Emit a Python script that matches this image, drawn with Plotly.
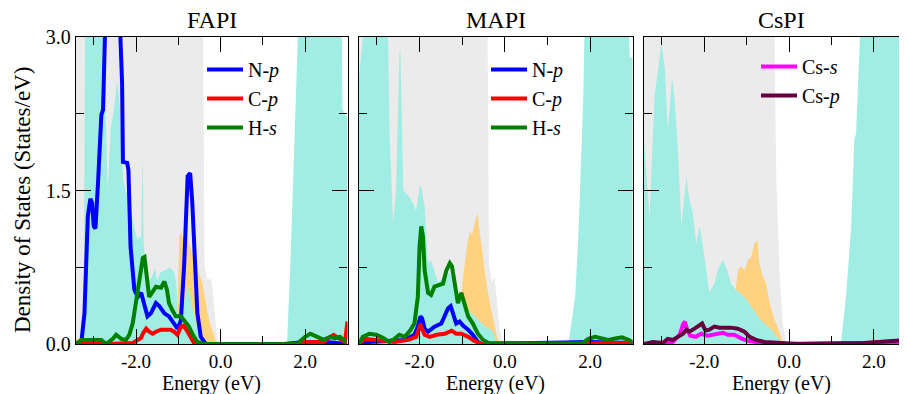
import plotly.graph_objects as go

# ---------------- data (energy in eV, DOS in states/eV) ----------------
# FAPI
FAPI_TOT_E = [-3.42, -0.42, -0.38, -0.3, -0.25, -0.2, -0.15, -0.08, 0.0, 3.0]
FAPI_TOT = [3.5, 3.5, 0.75, 0.62, 0.65, 0.58, 0.35, 0.05, 0.0, 0.0]
FAPI_PBS_E = [-3.42, -1.06, -1.02, -0.98, -0.94, -0.86, -0.78, -0.72, -0.64, -0.58, -0.5, -0.43,
              -0.35, -0.27, -0.2, -0.12, -0.04, 3.0]
FAPI_PBS = [0.05, 0.1, 0.3, 1.05, 1.1, 0.98, 1.02, 0.96, 0.85, 0.78, 0.69, 0.59,
            0.4, 0.23, 0.14, 0.04, 0.0, 0.0]
FAPI_IP_E = [-3.42, -3.24, -3.2, -2.78, -2.74, -2.67, -2.6, -2.52, -2.45, -2.38, -2.3, -2.22,
             -2.12, -2.02, -1.96, -1.88, -1.845, -1.84, -1.82, -1.78, -1.70, -1.62, -1.55, -1.5,
             -1.42, -1.3, -1.2, -1.1, -1.05, -1.0, -0.92, -0.84, -0.78, -0.72, -0.64, -0.55,
             -0.45, -0.3, 1.57, 1.65, 1.73, 1.81, 1.85, 2.86, 2.88, 3.0]
FAPI_IP = [0.0, 0.0, 3.4, 3.4, 2.6, 1.5, 2.1, 2.3, 2.57, 2.3, 1.6, 1.45,
           1.3, 1.1, 1.02, 1.05, 1.8, 1.8, 1.0, 0.8, 0.62, 0.66, 0.74, 0.62,
           0.7, 0.72, 0.75, 0.7, 0.6, 0.27, 0.35, 0.45, 0.58, 0.45, 0.3, 0.15,
           0.07, 0.0, 0.0, 0.79, 1.77, 2.75, 3.3, 3.3, 2.3, 2.2]
FAPI_NP_E = [-3.42, -3.29, -3.22, -3.18, -3.14, -3.08, -3.04, -3.0, -2.96, -2.9, -2.86, -2.82,
             -2.78, -2.76, -2.73, -2.6, -2.45, -2.37, -2.33, -2.31, -2.21, -2.18, -2.13, -2.04,
             -1.96, -1.88, -1.80, -1.73, -1.65, -1.53, -1.45, -1.33, -1.22, -1.1, -1.02, -0.94,
             -0.86, -0.78, -0.72, -0.67, -0.61, -0.55, -0.47, -0.35, 1.5, 2.0, 2.5, 2.98]
FAPI_NP = [0.0, 0.03, 0.3, 0.79, 1.25, 1.42, 1.38, 1.15, 1.13, 1.57, 2.0, 2.24,
           2.29, 2.75, 3.1, 3.6, 3.4, 3.0, 2.55, 1.78, 1.77, 1.7, 0.95, 0.53,
           0.46, 0.5, 0.37, 0.27, 0.3, 0.4, 0.37, 0.3, 0.27, 0.19, 0.15, 0.23,
           0.79, 1.64, 1.67, 1.38, 0.79, 0.3, 0.07, 0.0, 0.0, 0.02, 0.02, 0.0]
FAPI_CP_E = [-3.42, -3.0, -2.9, -2.67, -2.08, -1.88, -1.84, -1.76, -1.69, -1.61, -1.53, -1.41,
             -1.29, -1.18, -1.10, -1.02, -0.94, -0.88, -0.78, -0.71, -0.63, -0.47, 1.8, 2.0,
             2.43, 2.67, 2.82, 2.94, 3.0]
FAPI_CP = [0.0, 0.0, 0.02, 0.0, 0.01, 0.06, 0.1, 0.15, 0.12, 0.1, 0.12, 0.14,
           0.14, 0.14, 0.12, 0.09, 0.17, 0.18, 0.12, 0.06, 0.01, 0.0, 0.0, 0.02,
           0.02, 0.09, 0.05, 0.02, 0.22]
FAPI_HS_E = [-3.42, -3.29, -3.06, -2.82, -2.71, -2.55, -2.47, -2.35, -2.24, -2.16, -2.08, -2.0,
             -1.92, -1.84, -1.80, -1.74, -1.69, -1.61, -1.53, -1.41, -1.33, -1.27, -1.22, -1.14,
             -1.06, -0.94, -0.86, -0.75, -0.67, -0.55, -0.4, 1.8, 2.0, 2.12, 2.31, 2.43,
             2.59, 2.71, 2.82, 2.96]
FAPI_HS = [0.0, 0.04, 0.04, 0.04, 0.0, 0.05, 0.09, 0.05, 0.04, 0.09, 0.2, 0.4,
           0.6, 0.84, 0.85, 0.66, 0.46, 0.51, 0.56, 0.55, 0.61, 0.53, 0.4, 0.33,
           0.27, 0.27, 0.23, 0.17, 0.1, 0.02, 0.0, 0.0, 0.07, 0.1, 0.065, 0.04,
           0.07, 0.055, 0.07, 0.02]

# MAPI
MAPI_TOT_E = [-3.42, -0.41, -0.37, -0.3, -0.24, -0.2, -0.12, -0.04, 3.0]
MAPI_TOT = [3.5, 3.5, 0.79, 0.6, 0.66, 0.5, 0.14, 0.0, 0.0]
MAPI_PBS_E = [-3.42, -1.1, -1.02, -0.95, -0.9, -0.82, -0.77, -0.71, -0.64, -0.59, -0.51, -0.43,
              -0.35, -0.27, -0.2, -0.14, 3.0]
MAPI_PBS = [0.05, 0.1, 0.5, 0.75, 0.92, 1.11, 1.06, 1.18, 1.28, 1.1, 0.85, 0.59,
            0.4, 0.23, 0.1, 0.0, 0.0]
MAPI_IP_E = [-3.42, -3.26, -2.75, -2.70, -2.62, -2.55, -2.47, -2.45, -2.38, -2.24, -2.16, -2.08,
             -2.0, -1.96, -1.88, -1.80, -1.73, -1.65, -1.57, -1.41, -1.29, -1.18, -1.02, -0.94,
             -0.78, -0.63, -0.47, -0.31, -0.16, 1.49, 1.65, 1.73, 1.79, 1.84, 1.88, 2.9,
             2.93, 3.0]
MAPI_IP = [2.6, 3.3, 3.3, 2.0, 1.18, 1.5, 2.86, 2.86, 1.5, 1.44, 1.38, 1.3,
           1.54, 1.54, 1.34, 0.79, 0.82, 0.72, 0.6, 0.66, 0.7, 0.53, 0.46, 0.37,
           0.3, 0.23, 0.17, 0.14, 0.0, 0.0, 0.46, 1.1, 1.77, 2.4, 3.3, 3.3,
           2.8, 2.8]
MAPI_NP_E = [-3.42, -3.2, -2.35, -2.12, -2.04, -1.98, -1.94, -1.88, -1.80, -1.65, -1.49, -1.41,
             -1.33, -1.27, -1.2, -1.14, -1.06, -0.98, -0.86, -0.75, -0.63, -0.55, 2.0, 3.0]
MAPI_NP = [0.0, 0.02, 0.04, 0.09, 0.17, 0.27, 0.25, 0.15, 0.12, 0.17, 0.2, 0.27,
           0.35, 0.37, 0.27, 0.2, 0.22, 0.18, 0.14, 0.09, 0.02, 0.0, 0.02, 0.01]
MAPI_CP_E = [-3.42, -3.29, -3.14, -2.9, -2.59, -2.27, -2.08, -1.98, -1.94, -1.88, -1.76, -1.6,
             -1.41, -1.25, -1.14, -1.02, -0.86, -0.71, -0.55, 2.0, 3.0]
MAPI_CP = [0.0, 0.05, 0.045, 0.03, 0.02, 0.04, 0.07, 0.19, 0.15, 0.09, 0.07, 0.09,
           0.1, 0.13, 0.1, 0.1, 0.07, 0.03, 0.0, 0.01, 0.01]
MAPI_HS_E = [-3.42, -3.33, -3.18, -3.02, -2.86, -2.71, -2.59, -2.47, -2.35, -2.24, -2.12, -2.04,
             -2.0, -1.96, -1.92, -1.88, -1.80, -1.73, -1.65, -1.53, -1.45, -1.37, -1.29, -1.24,
             -1.18, -1.10, -1.02, -0.94, -0.86, -0.75, -0.63, -0.51, -0.39, 1.8, 1.96, 2.12,
             2.27, 2.43, 2.59, 2.75, 2.9, 3.0]
MAPI_HS = [0.0, 0.07, 0.1, 0.09, 0.06, 0.02, 0.05, 0.09, 0.07, 0.12, 0.2, 0.46,
           0.95, 1.15, 1.05, 0.72, 0.5, 0.48, 0.56, 0.58, 0.59, 0.72, 0.79, 0.76,
           0.59, 0.4, 0.5, 0.37, 0.27, 0.2, 0.1, 0.04, 0.01, 0.0, 0.05, 0.07,
           0.055, 0.04, 0.055, 0.065, 0.04, 0.02]

# CsPI
CSPI_TOT_E = [-3.42, -0.36, -0.3, -0.22, -0.15, -0.07, 0.0, 2.78]
CSPI_TOT = [3.5, 3.5, 1.6, 0.65, 0.2, 0.02, 0.0, 0.0]
CSPI_PBS_E = [-3.42, -1.3, -1.25, -1.21, -1.13, -1.05, -0.97, -0.89, -0.82, -0.75, -0.70, -0.62,
              -0.54, -0.46, -0.35, -0.23, -0.15, 2.78]
CSPI_PBS = [0.05, 0.1, 0.55, 0.72, 0.76, 0.72, 0.82, 0.85, 0.98, 1.02, 0.79, 0.66,
            0.59, 0.4, 0.25, 0.12, 0.0, 0.0]
CSPI_IP_E = [-3.42, -3.29, -3.17, -3.09, -3.01, -2.93, -2.86, -2.82, -2.76, -2.7, -2.62, -2.54,
             -2.46, -2.42, -2.35, -2.27, -2.19, -2.11, -2.03, -1.96, -1.88, -1.76, -1.68, -1.56,
             -1.46, -1.37, -1.25, -1.05, -0.9, -0.66, -0.42, -0.15, 1.22, 1.34, 1.46, 1.54,
             1.58, 1.62, 1.7, 2.6, 2.65, 2.7, 2.78]
CSPI_IP = [2.0, 1.24, 2.42, 2.7, 2.94, 2.7, 2.09, 2.28, 2.61, 2.38, 1.9, 1.15,
           1.47, 1.64, 1.41, 1.28, 0.98, 1.15, 0.95, 0.76, 0.5, 0.59, 0.72, 0.82,
           0.72, 0.59, 0.53, 0.46, 0.37, 0.23, 0.14, 0.0, 0.0, 0.46, 1.12, 2.0,
           2.06, 2.42, 3.3, 3.3, 2.8, 3.3, 3.3]
CSPI_CSS_E = [-3.42, -2.9, -2.74, -2.58, -2.5, -2.46, -2.4, -2.33, -2.2, -2.07, -1.92, -1.68,
              -1.56, -1.44, -1.29, -1.13, -0.97, -0.74, -0.42, 1.77, 2.55, 2.78]
CSPI_CSS = [0.0, 0.0, 0.02, 0.09, 0.19, 0.22, 0.14, 0.08, 0.07, 0.1, 0.08, 0.1,
            0.11, 0.09, 0.09, 0.055, 0.03, 0.015, 0.0, 0.01, 0.02, 0.02]
CSPI_CSP_E = [-3.42, -3.21, -2.98, -2.86, -2.74, -2.62, -2.5, -2.42, -2.35, -2.23, -2.11, -2.05,
              -1.97, -1.88, -1.76, -1.64, -1.48, -1.37, -1.21, -1.05, -0.93, -0.78, -0.58, -0.27,
              0.2, 1.77, 2.16, 2.56, 2.78]
CSPI_CSP = [0.0, 0.02, 0.01, 0.05, 0.04, 0.07, 0.1, 0.14, 0.12, 0.15, 0.19, 0.2,
            0.13, 0.14, 0.17, 0.16, 0.16, 0.16, 0.15, 0.12, 0.07, 0.04, 0.02, 0.01,
            0.0, 0.01, 0.02, 0.03, 0.04]

PANEL_TITLES = ["FAPI", "MAPI", "CsPI"]
X_TICKS = [-2.0, 0.0, 2.0]
X_TICK_TEXT = ["-2.0", "0.0", "2.0"]
Y_TICKS = [0.0, 1.5, 3.0]
Y_TICK_TEXT = ["0.0", "1.5", "3.0"]

# ---------------- styling ----------------
OFF = 8                      # page body margin of the html page
W, H = 907 - OFF, 394 - OFF  # figure size so that the page fills the 907x394 window
FONT = "Liberation Serif"
GRAY, CYAN, ORANGE = "#ebebeb", "#a0ede4", "#ffd282"
BLUE, RED, GREEN = "#0000ff", "#ff0000", "#008000"
MAGENTA, MAROON = "#ff00ff", "#66003f"


def fx(p):  # page pixel (x) -> paper fraction
    return (p - OFF) / W


def fy(p):  # page pixel (y, from top) -> paper fraction
    return (H - (p - OFF)) / H


panels_px = [(76, 347.5), (359, 632.7), (644, 907)]
x_ranges = [[-3.42, 3.0], [-3.42, 3.0], [-3.42, 2.78]]
y_top_px, y_bot_px = 37, 344

fig = go.Figure()


def fill(xa, ya, e, d, color):
    fig.add_trace(go.Scatter(x=e, y=d, xaxis=xa, yaxis=ya, mode="lines",
                             line=dict(width=0, color=color), fill="tozeroy",
                             fillcolor=color, showlegend=False, hoverinfo="skip"))


def line(xa, ya, e, d, color, name, legend):
    fig.add_trace(go.Scatter(x=e, y=d, xaxis=xa, yaxis=ya, mode="lines",
                             line=dict(width=4, color=color), name=name,
                             legend=legend, showlegend=True))


# FAPI
fill("x", "y", FAPI_TOT_E, FAPI_TOT, GRAY)
fill("x", "y", FAPI_PBS_E, FAPI_PBS, ORANGE)
fill("x", "y", FAPI_IP_E, FAPI_IP, CYAN)
line("x", "y", FAPI_NP_E, FAPI_NP, BLUE, "N-<i>p</i>", "legend")
line("x", "y", FAPI_CP_E, FAPI_CP, RED, "C-<i>p</i>", "legend")
line("x", "y", FAPI_HS_E, FAPI_HS, GREEN, "H-<i>s</i>", "legend")
# MAPI
fill("x2", "y2", MAPI_TOT_E, MAPI_TOT, GRAY)
fill("x2", "y2", MAPI_PBS_E, MAPI_PBS, ORANGE)
fill("x2", "y2", MAPI_IP_E, MAPI_IP, CYAN)
line("x2", "y2", MAPI_NP_E, MAPI_NP, BLUE, "N-<i>p</i>", "legend2")
line("x2", "y2", MAPI_CP_E, MAPI_CP, RED, "C-<i>p</i>", "legend2")
line("x2", "y2", MAPI_HS_E, MAPI_HS, GREEN, "H-<i>s</i>", "legend2")
# CsPI
fill("x3", "y3", CSPI_TOT_E, CSPI_TOT, GRAY)
fill("x3", "y3", CSPI_PBS_E, CSPI_PBS, ORANGE)
fill("x3", "y3", CSPI_IP_E, CSPI_IP, CYAN)
line("x3", "y3", CSPI_CSS_E, CSPI_CSS, MAGENTA, "Cs-<i>s</i>", "legend3")
line("x3", "y3", CSPI_CSP_E, CSPI_CSP, MAROON, "Cs-<i>p</i>", "legend3")

ydom = [fy(y_bot_px), fy(y_top_px)]
axis_common = dict(showline=True, linecolor="black", linewidth=1.3, ticks="inside",
                   tickcolor="black", tickwidth=1.3, ticklen=15, showgrid=False,
                   zeroline=False, automargin=False, layer="above traces")
layout = dict(width=W, height=H, margin=dict(l=0, r=0, t=0, b=0, pad=0, autoexpand=False),
              paper_bgcolor="white", plot_bgcolor="white",
              font=dict(family=FONT, color="black"))
for i in range(3):
    sfx = "" if i == 0 else str(i + 1)
    x0, x1 = panels_px[i]
    layout["xaxis" + sfx] = dict(axis_common, domain=[fx(x0), min(fx(x1), 1.0)],
                                 range=x_ranges[i],
                                 anchor="y" + sfx, mirror="ticks", tickmode="array",
                                 tickvals=X_TICKS, ticktext=X_TICK_TEXT,
                                 tickfont=dict(family=FONT, size=19, color="black"),
                                 minor=dict(tick0=-3, dtick=2, ticks="inside", ticklen=8,
                                            tickcolor="black", tickwidth=1.3, showgrid=False))
    layout["yaxis" + sfx] = dict(axis_common, domain=ydom, range=[0, 3.0],
                                 anchor="x" + sfx, mirror="ticks" if i < 2 else False,
                                 tickmode="array", tickvals=Y_TICKS, ticktext=Y_TICK_TEXT,
                                 showticklabels=(i == 0),
                                 tickfont=dict(family=FONT, size=20, color="black"),
                                 minor=dict(tick0=0.75, dtick=1.5, ticks="inside", ticklen=8,
                                            tickcolor="black", tickwidth=1.3, showgrid=False))

leg_common = dict(bgcolor="rgba(0,0,0,0)", borderwidth=0, font=dict(family=FONT, size=20,
                  color="black"), xanchor="left", yanchor="top", itemwidth=36,
                  tracegroupgap=0)
layout["legend"] = dict(leg_common, x=fx(202), y=fy(50))
layout["legend2"] = dict(leg_common, x=fx(486), y=fy(50))
layout["legend3"] = dict(leg_common, x=fx(756), y=fy(47))
fig.update_layout(**layout)

anns = []
centers = [(76 + 347.5) / 2, (359 + 632.7) / 2, 781]
for i, t in enumerate(PANEL_TITLES):
    anns.append(dict(text=t, x=fx(centers[i]), y=fy(20), xref="paper", yref="paper",
                     showarrow=False, xanchor="center", yanchor="middle",
                     font=dict(family=FONT, size=24, color="black")))
    anns.append(dict(text="Energy (eV)", x=fx(centers[i]), y=fy(383), xref="paper",
                     yref="paper", showarrow=False, xanchor="center", yanchor="middle",
                     borderpad=0, font=dict(family=FONT, size=20, color="black")))
anns.append(dict(text="Density of States (States/eV)", x=fx(22), y=fy(200),
                 xref="paper", yref="paper", showarrow=False, textangle=-90,
                 xanchor="center", yanchor="middle",
                 font=dict(family=FONT, size=23, color="black")))
fig.update_layout(annotations=anns)

fig.write_html("out.html")
